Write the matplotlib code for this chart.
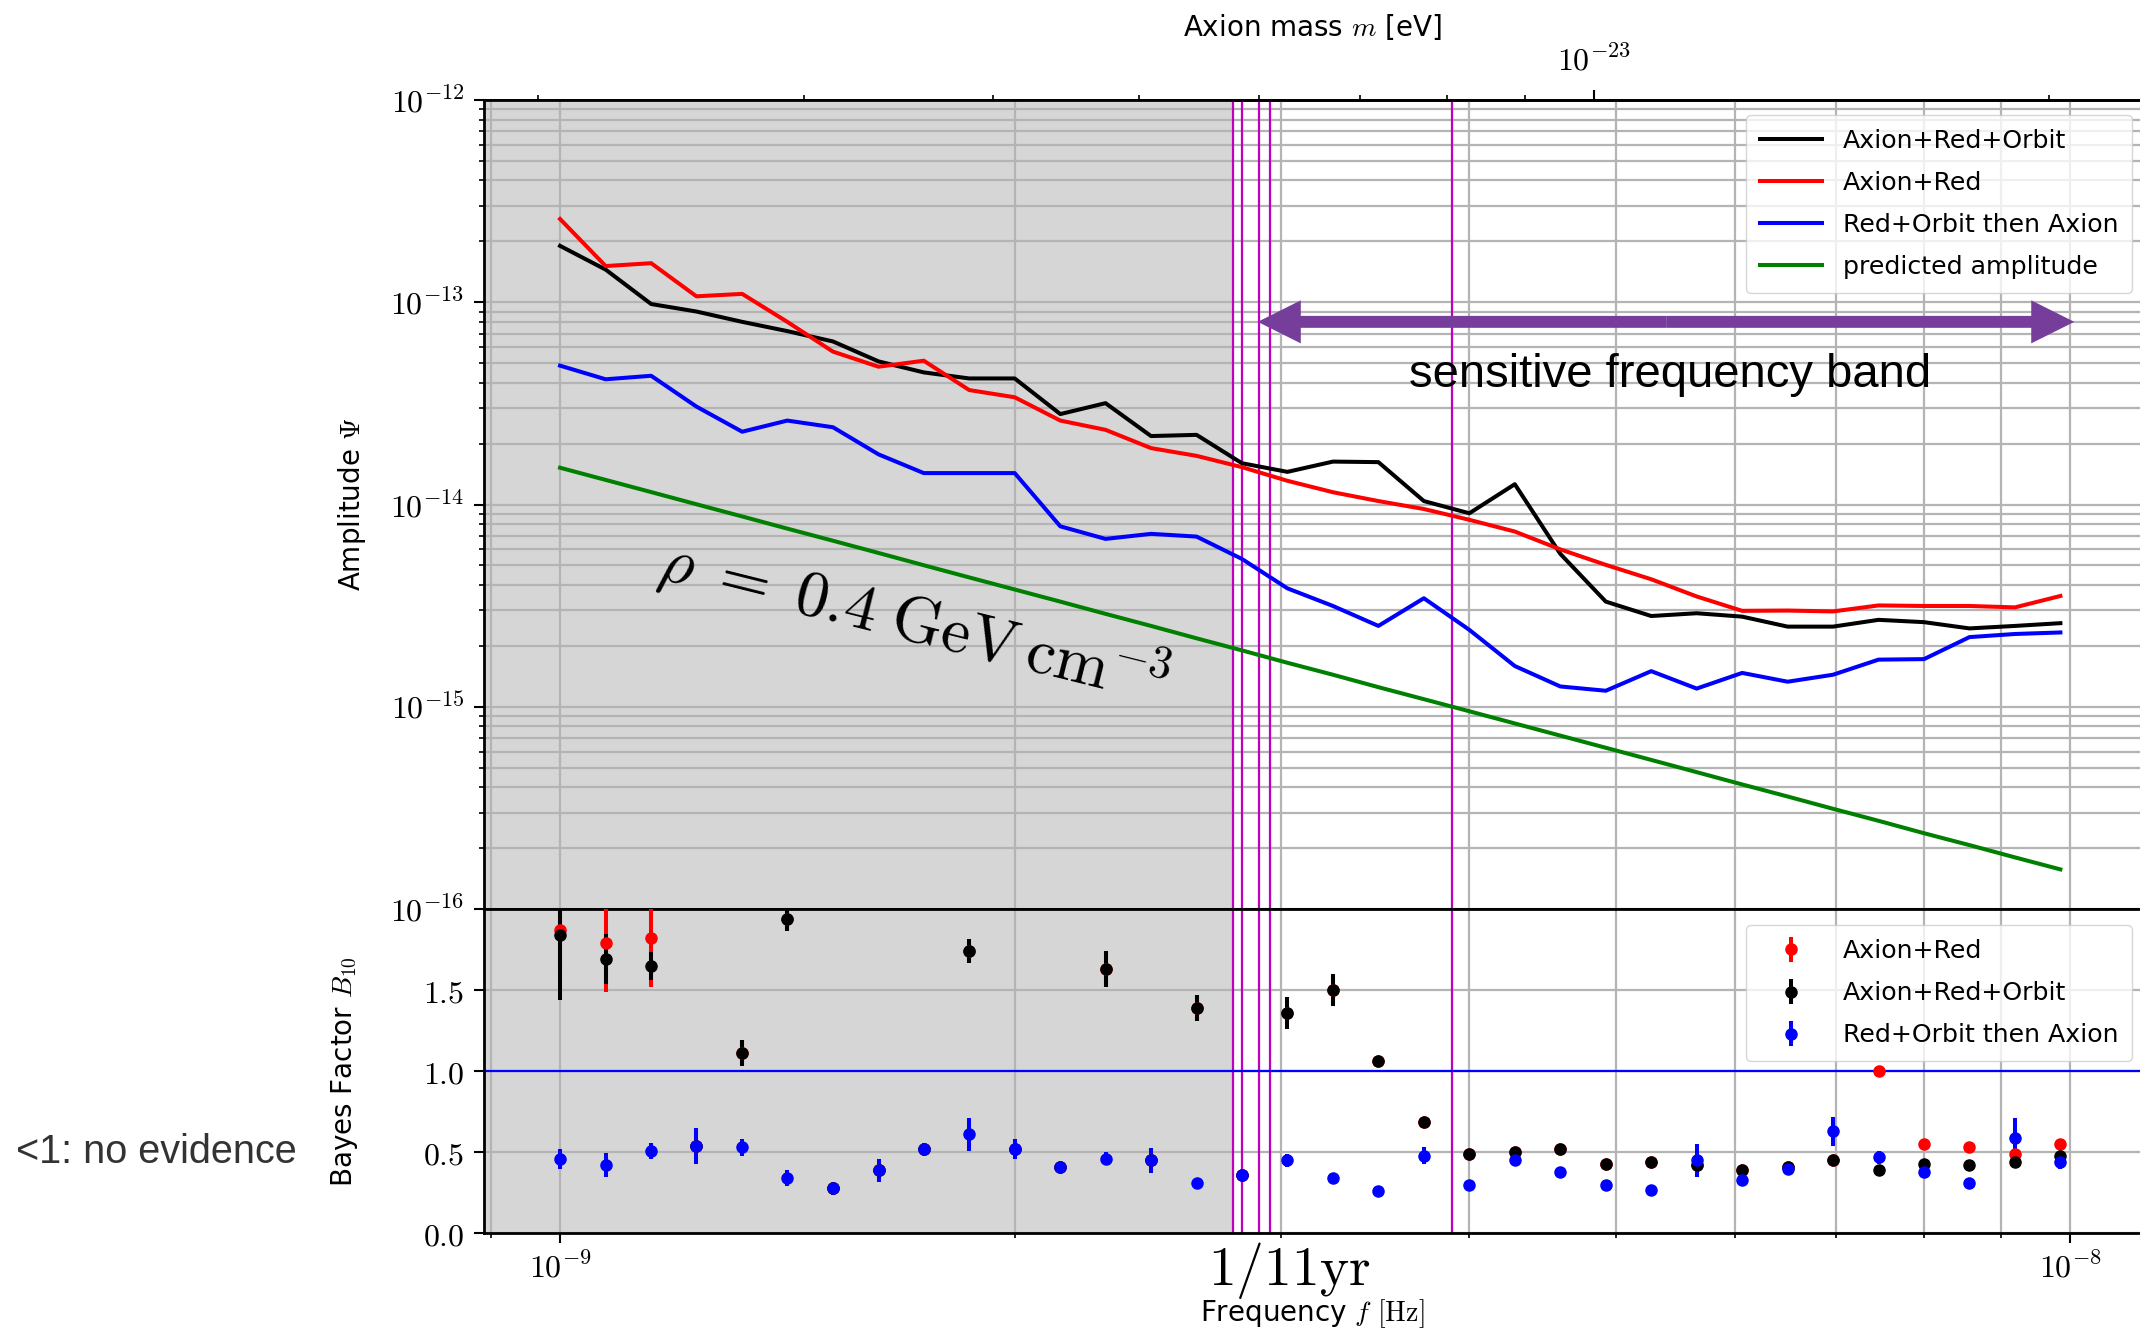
import matplotlib
matplotlib.use('Agg')
import matplotlib.pyplot as plt
import numpy as np
from matplotlib.ticker import FuncFormatter, NullFormatter, FixedLocator
from matplotlib.transforms import blended_transform_factory

plt.rcParams['mathtext.fontset'] = 'cm'
plt.rcParams['font.family'] = ['DejaVu Sans']

# frequency bins [Hz]
freq = [1.000e-9, 1.072e-9, 1.149e-9, 1.231e-9, 1.320e-9, 1.414e-9, 1.516e-9, 1.625e-9,
        1.741e-9, 1.866e-9, 2.000e-9, 2.144e-9, 2.297e-9, 2.462e-9, 2.639e-9, 2.828e-9,
        3.031e-9, 3.249e-9, 3.482e-9, 3.732e-9, 4.000e-9, 4.287e-9, 4.595e-9, 4.925e-9,
        5.278e-9, 5.657e-9, 6.063e-9, 6.498e-9, 6.964e-9, 7.464e-9, 8.000e-9, 8.574e-9,
        9.190e-9, 9.849e-9]

# amplitude upper limits
amp_black = [1.90e-13, 1.45e-13, 9.8e-14, 9.0e-14, 8.0e-14, 7.2e-14, 6.4e-14, 5.1e-14,
             4.5e-14, 4.2e-14, 4.2e-14, 2.8e-14, 3.17e-14, 2.18e-14, 2.21e-14, 1.60e-14,
             1.45e-14, 1.63e-14, 1.62e-14, 1.04e-14, 9.05e-15, 1.26e-14, 5.7e-15, 3.31e-15,
             2.81e-15, 2.90e-15, 2.79e-15, 2.49e-15, 2.49e-15, 2.69e-15, 2.62e-15, 2.44e-15,
             2.51e-15, 2.59e-15]
amp_red = [2.58e-13, 1.51e-13, 1.56e-13, 1.07e-13, 1.10e-13, 8.0e-14, 5.7e-14, 4.8e-14,
           5.14e-14, 3.68e-14, 3.39e-14, 2.6e-14, 2.34e-14, 1.90e-14, 1.74e-14, 1.53e-14,
           1.31e-14, 1.15e-14, 1.04e-14, 9.5e-15, 8.4e-15, 7.35e-15, 6.0e-15, 5.03e-15,
           4.27e-15, 3.51e-15, 2.98e-15, 2.99e-15, 2.96e-15, 3.17e-15, 3.15e-15, 3.15e-15,
           3.10e-15, 3.53e-15]
amp_blue = [4.86e-14, 4.16e-14, 4.33e-14, 3.05e-14, 2.29e-14, 2.60e-14, 2.41e-14, 1.77e-14,
            1.43e-14, 1.43e-14, 1.43e-14, 7.8e-15, 6.76e-15, 7.16e-15, 6.94e-15, 5.38e-15,
            3.85e-15, 3.15e-15, 2.51e-15, 3.44e-15, 2.40e-15, 1.59e-15, 1.26e-15, 1.20e-15,
            1.50e-15, 1.23e-15, 1.47e-15, 1.33e-15, 1.44e-15, 1.71e-15, 1.72e-15, 2.21e-15,
            2.29e-15, 2.33e-15]
amp_pred = [1.52e-14, 1.323e-14, 1.152e-14, 1.003e-14, 8.73e-15, 7.60e-15, 6.62e-15, 5.76e-15,
            5.01e-15, 4.36e-15, 3.80e-15, 3.31e-15, 2.88e-15, 2.51e-15, 2.18e-15, 1.90e-15,
            1.65e-15, 1.44e-15, 1.25e-15, 1.09e-15, 9.50e-16, 8.27e-16, 7.20e-16, 6.27e-16,
            5.46e-16, 4.75e-16, 4.13e-16, 3.60e-16, 3.13e-16, 2.73e-16, 2.37e-16, 2.07e-16,
            1.80e-16, 1.57e-16]

# Bayes factors
bf_red = [1.87, 1.79, 1.82, 0.54, 1.11, 1.94, 0.28, 0.39, 0.52, 1.74, 0.52, 0.41, 1.63, 0.45,
          1.39, 0.36, 1.36, 1.50, 1.06, 0.69, 0.49, 0.50, 0.52, 0.43, 0.44, 0.42, 0.39, 0.41,
          0.45, 1.00, 0.55, 0.53, 0.49, 0.55]
err_red = [0.25, 0.3, 0.3, 0.03, 0.08, 0.075, 0.03, 0.03, 0.03, 0.075, 0.03, 0.03, 0.11, 0.03,
           0.08, 0.03, 0.1, 0.1, 0.02, 0.03, 0.02, 0.02, 0.03, 0.02, 0.02, 0.02, 0.02, 0.02,
           0.02, 0.02, 0.02, 0.02, 0.02, 0.02]
bf_black = [1.84, 1.69, 1.65, 0.54, 1.11, 1.94, 0.28, 0.39, 0.52, 1.74, 0.52, 0.41, 1.63, 0.45,
            1.39, 0.36, 1.36, 1.50, 1.06, 0.69, 0.49, 0.50, 0.52, 0.43, 0.44, 0.42, 0.39, 0.41,
            0.45, 0.39, 0.43, 0.42, 0.44, 0.48]
err_black = [0.4, 0.155, 0.085, 0.03, 0.08, 0.075, 0.03, 0.03, 0.03, 0.075, 0.03, 0.03, 0.11, 0.03,
             0.08, 0.03, 0.1, 0.1, 0.02, 0.03, 0.02, 0.02, 0.03, 0.02, 0.02, 0.02, 0.02, 0.02,
             0.02, 0.02, 0.02, 0.02, 0.02, 0.02]
bf_blue = [0.46, 0.42, 0.51, 0.54, 0.53, 0.34, 0.28, 0.39, 0.52, 0.61, 0.52, 0.41, 0.46, 0.45,
           0.31, 0.36, 0.45, 0.34, 0.26, 0.48, 0.30, 0.45, 0.38, 0.30, 0.27, 0.45, 0.33, 0.40,
           0.63, 0.47, 0.38, 0.31, 0.59, 0.44]
err_blue = [0.06, 0.075, 0.05, 0.11, 0.05, 0.05, 0.04, 0.07, 0.04, 0.1, 0.06, 0.03, 0.04, 0.075,
            0.03, 0.03, 0.04, 0.03, 0.03, 0.05, 0.03, 0.03, 0.03, 0.03, 0.03, 0.1, 0.03, 0.04,
            0.09, 0.04, 0.04, 0.03, 0.12, 0.04]

# vertical markers [Hz]
mag_lines = [2.788e-9, 2.827e-9, 2.902e-9, 2.950e-9, 3.894e-9]
f_min, f_max = 8.906e-10, 1.112e-8

hbar = 6.582e-16  # eV s


def f2m(f):
    return np.pi * hbar * np.asarray(f)


def m2f(m):
    return np.asarray(m) / (np.pi * hbar)


def pow_fmt(v, pos):
    if v <= 0:
        return ''
    e = int(np.round(np.log10(v)))
    if abs(v / 10.0**e - 1) > 1e-3:
        return ''
    return r'$10^{%d}$' % e


fig = plt.figure(figsize=(21.4, 13.28), dpi=100)
ax1 = fig.add_axes([0.2262, 0.3155, 0.7738, 0.6092])
ax2 = fig.add_axes([0.2262, 0.0712, 0.7738, 0.2443], sharex=ax1)

grid_kw = dict(color='#b4b4b4', lw=1.6)
for ax in (ax1, ax2):
    ax.axvspan(f_min, mag_lines[0], color='#d6d6d6', lw=0, zorder=1)
    for x in mag_lines:
        ax.axvline(x, color='m', lw=1.6, zorder=2)
    for s in ax.spines.values():
        s.set_linewidth(2)
    ax.spines['right'].set_visible(False)
    ax.tick_params(which='major', length=7, width=1.5, labelsize=23, pad=7)
    ax.tick_params(which='minor', length=3.5, width=1.2)

leg_kw = dict(loc='upper right', fontsize=18.2, handlelength=2.47, handletextpad=0.8,
              labelspacing=0.715, borderpad=0.55, borderaxespad=0)

# upper panel
ax1.plot(freq, amp_black, color='k', lw=2.9, label='Axion+Red+Orbit', zorder=3)
ax1.plot(freq, amp_red, color='r', lw=2.9, label='Axion+Red', zorder=3)
ax1.plot(freq, amp_blue, color='b', lw=2.9, label='Red+Orbit then Axion', zorder=3)
ax1.plot(freq, amp_pred, color='g', lw=2.9, label='predicted amplitude', zorder=3)
ax1.set_xscale('log')
ax1.set_yscale('log')
ax1.set_xlim(f_min, f_max)
ax1.set_ylim(1e-16, 1e-12)
ax1.grid(True, which='both', **grid_kw)
ax1.yaxis.set_major_formatter(FuncFormatter(pow_fmt))
ax1.yaxis.set_minor_formatter(NullFormatter())
ax1.tick_params(axis='x', which='both', bottom=False, labelbottom=False)
ax1.set_ylabel(r'Amplitude $\Psi$', fontsize=20)
ax1.yaxis.set_label_coords(-0.070, 0.5)
ax1.legend(bbox_to_anchor=(0.9952, 0.9818), **leg_kw)

# sensitive band arrow
purple = '#763d9b'
f_mid = 5.40e-9
for x_end in (2.897e-9, 1.006e-8):
    ax1.annotate('', xy=(x_end, 8.0e-14), xytext=(f_mid, 8.0e-14),
                 arrowprops=dict(arrowstyle='simple,head_length=31,head_width=31,tail_width=8.6',
                                 mutation_scale=1, color=purple, lw=0, shrinkA=0, shrinkB=0),
                 zorder=4)
ax1.text(5.43e-9, 3.81e-14, 'sensitive frequency band', fontsize=34,
         family=['Liberation Sans'], ha='center', va='baseline', zorder=4)
ax1.text(1.715e-9, 2.66e-15, r'$\rho\;=\;0.4\;\mathrm{GeV}\,\mathrm{cm}^{-3}$', fontsize=47,
         rotation=-14, rotation_mode='anchor', ha='center', va='center', zorder=4)

# axion mass axis
sec = ax1.secondary_xaxis('top', functions=(f2m, m2f))
sec.xaxis.set_major_formatter(FuncFormatter(pow_fmt))
sec.xaxis.set_minor_formatter(NullFormatter())
sec.tick_params(which='major', length=7, width=1.5, labelsize=23, pad=9.5)
sec.tick_params(which='minor', length=3.5, width=1.2)
sec.spines['top'].set_linewidth(2)
sec.set_xlabel(r'Axion mass $m$ [eV]', fontsize=20, labelpad=7)

# lower panel
eb_kw = dict(fmt='o', ms=8, elinewidth=2.9, zorder=3)
ax2.errorbar(freq, bf_red, yerr=err_red, color='r', label='Axion+Red', **eb_kw)
ax2.errorbar(freq, bf_black, yerr=err_black, color='k', label='Axion+Red+Orbit', **eb_kw)
ax2.errorbar(freq, bf_blue, yerr=err_blue, color='b', label='Red+Orbit then Axion', **eb_kw)
ax2.axhline(1.0, color='b', lw=1.6, zorder=2.5)
ax2.set_ylim(0, 2.0)
ax2.yaxis.set_major_locator(FixedLocator([0.0, 0.5, 1.0, 1.5]))
ax2.yaxis.set_major_formatter(FuncFormatter(lambda v, p: r'$%.1f$' % v))
ax2.xaxis.set_major_formatter(FuncFormatter(pow_fmt))
ax2.xaxis.set_minor_formatter(NullFormatter())
ax2.grid(True, which='both', axis='x', **grid_kw)
ax2.grid(True, which='major', axis='y', **grid_kw)
ax2.set_ylabel(r'Bayes Factor $B_{10}$', fontsize=20)
ax2.yaxis.set_label_coords(-0.075, 0.5)
ax2.set_xlabel(r'Frequency $f$ $[\mathrm{Hz}]$', fontsize=20)
ax2.xaxis.set_label_coords(0.500, -0.196)
ax2.legend(bbox_to_anchor=(0.9952, 0.9495), **leg_kw)

tr = blended_transform_factory(ax2.transData, ax2.transAxes)
ax2.text(3.04e-9, -0.159, r'$1/11\mathrm{yr}$', transform=tr, fontsize=40,
         ha='center', va='baseline')

fig.text(16 / 2140, 1 - 1152 / 1328, '<1: no evidence', fontsize=28.5, color='#333333',
         family=['Liberation Sans'], ha='left', va='center')

fig.savefig('out.png', dpi=100)
